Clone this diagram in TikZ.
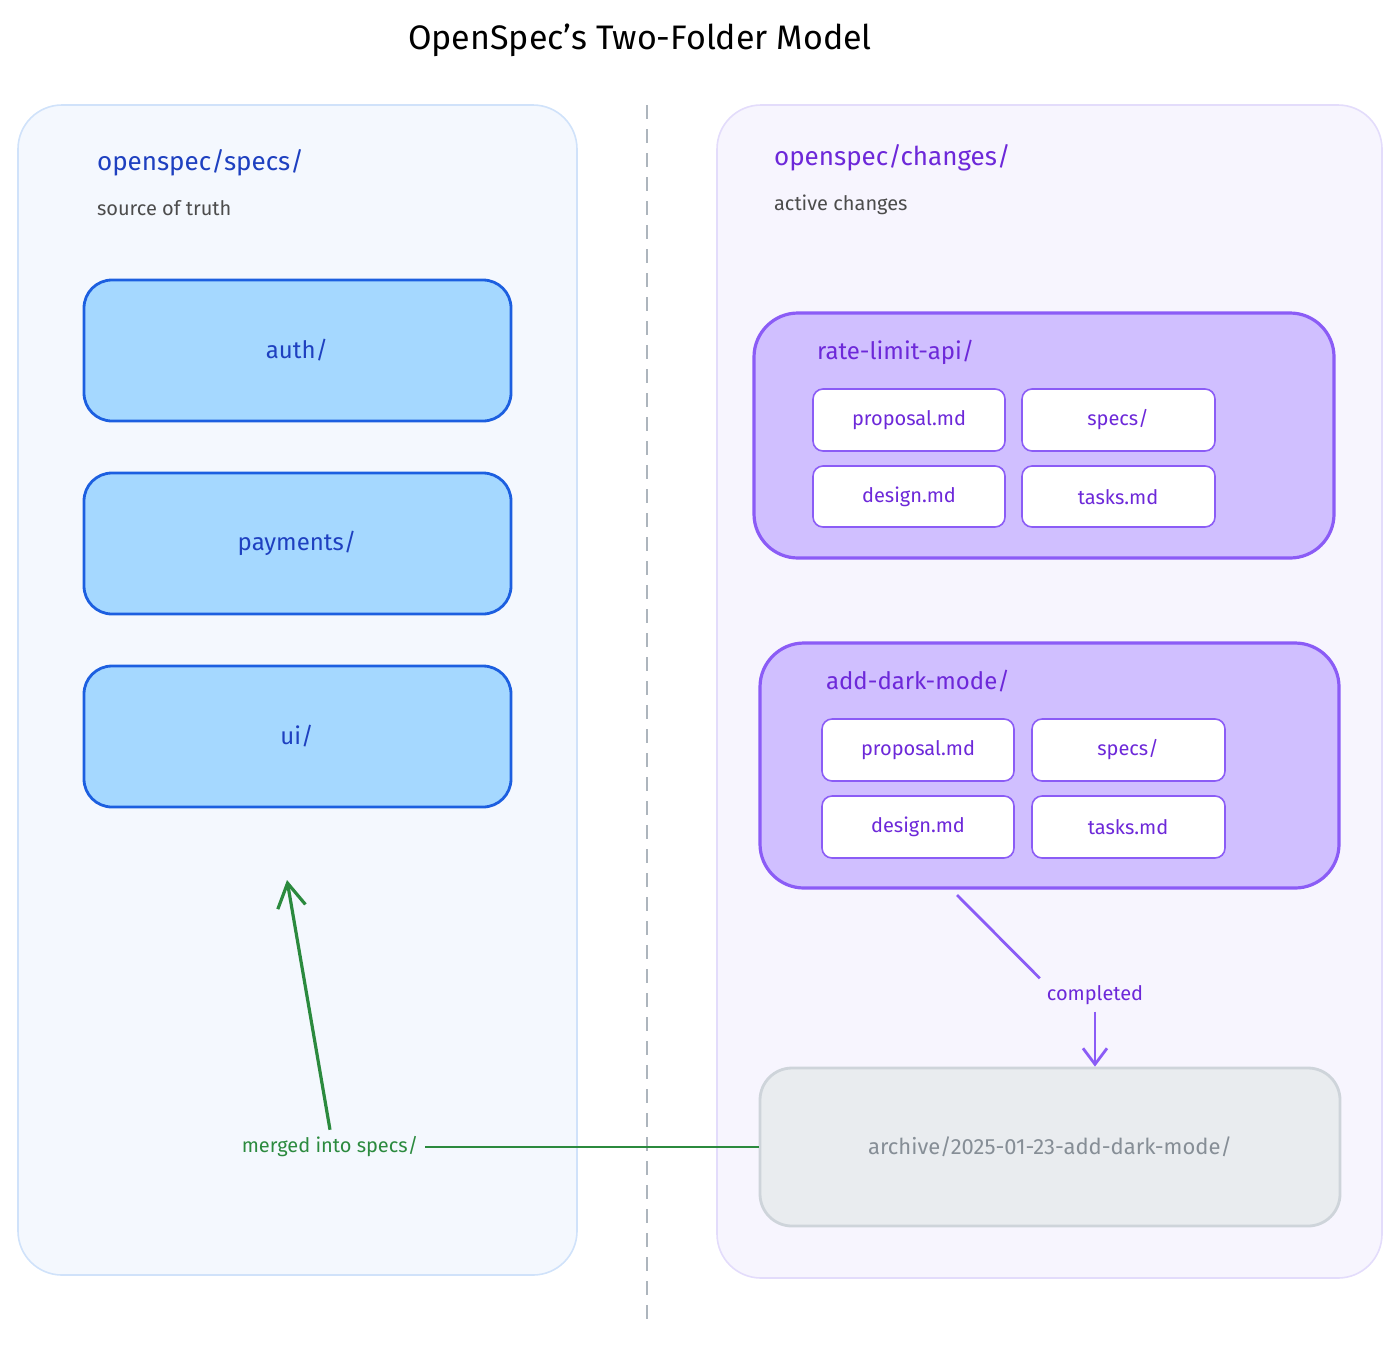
\documentclass[tikz,border=0pt]{standalone}
\usepackage{fontspec}
\setmainfont{Fira Sans}
\usetikzlibrary{arrows.meta}
\definecolor{lbfill}{HTML}{F4F8FE}\definecolor{lbdraw}{HTML}{D0E2FA}
\definecolor{bfill}{HTML}{A5D8FF}\definecolor{bdraw}{HTML}{1C5FE0}\definecolor{btext}{HTML}{1E40C0}
\definecolor{rpfill}{HTML}{F7F5FE}\definecolor{rpdraw}{HTML}{E3DCFB}
\definecolor{pfill}{HTML}{D0BFFF}\definecolor{pdraw}{HTML}{8B5CF6}\definecolor{ptext}{HTML}{6D28D9}
\definecolor{afill}{HTML}{E9ECEF}\definecolor{adraw}{HTML}{CED4DA}\definecolor{atext}{HTML}{868E96}
\definecolor{gr}{HTML}{2B8A3E}\definecolor{divgray}{HTML}{ADB5BD}
\begin{document}
\begin{tikzpicture}[x=0.5pt,y=-0.5pt,
  panel/.style={rounded corners=22pt,line width=0.8pt},
  specbox/.style={draw=bdraw,fill=bfill,rounded corners=14pt,line width=1.4pt},
  grp/.style={draw=pdraw,fill=pfill,rounded corners=22pt,line width=1.6pt},
  file/.style={draw=pdraw,fill=white,rounded corners=5pt,line width=0.8pt},
  ft/.style={text=ptext,font=\fontsize{10}{12}\selectfont},
  bt/.style={text=btext,font=\fontsize{12}{14}\selectfont},
]
\useasboundingbox (0,0) rectangle (1400,1349);
\node (title) at (640,40) {\fontsize{17}{20}\selectfont OpenSpec's Two-Folder Model};
\draw[panel,fill=lbfill,draw=lbdraw] (18,105) rectangle (577,1275);
\draw[panel,fill=rpfill,draw=rpdraw] (717,105) rectangle (1382,1278);
\draw[divgray,line width=1.4pt,dash pattern=on 7pt off 5pt] (647,105) -- (647,1320);
\node[anchor=west,text=btext,font=\fontsize{13}{15}\selectfont] (lt) at (90,163) {openspec/specs/};
\node[anchor=west,text=black!70,font=\fontsize{10}{12}\selectfont] (ls) at (90,208) {source of truth};
\node[anchor=west,text=ptext,font=\fontsize{13}{15}\selectfont] (rt) at (767,158) {openspec/changes/};
\node[anchor=west,text=black!70,font=\fontsize{10}{12}\selectfont] (rs) at (767,205) {active changes};
\draw[specbox] (84,280) rectangle (511,421); \node[bt] (auth) at (297,350) {auth/};
\draw[specbox] (84,473) rectangle (511,614); \node[bt] (pay) at (297,543) {payments/};
\draw[specbox] (84,666) rectangle (511,807); \node[bt] (ui) at (297,736) {ui/};
% group 1
\draw[grp] (754,313) rectangle (1334,558);
\node[anchor=west,ft,font=\fontsize{12}{14}\selectfont] (g1) at (810,352) {rate-limit-api/};
\draw[file] (813,389) rectangle (1005,451); \node[ft] at (909,420) {proposal.md};
\draw[file] (1022,389) rectangle (1215,451); \node[ft] at (1118,420) {specs/};
\draw[file] (813,466) rectangle (1005,527); \node[ft] at (909,497) {design.md};
\draw[file] (1022,466) rectangle (1215,527); \node[ft] at (1118,497) {tasks.md};
% group 2
\draw[grp] (760,643) rectangle (1339,888);
\node[anchor=west,ft,font=\fontsize{12}{14}\selectfont] (g2) at (819,681) {add-dark-mode/};
\draw[file] (822,719) rectangle (1014,781); \node[ft] at (918,750) {proposal.md};
\draw[file] (1032,719) rectangle (1225,781); \node[ft] at (1128,750) {specs/};
\draw[file] (822,796) rectangle (1014,858); \node[ft] at (918,827) {design.md};
\draw[file] (1032,796) rectangle (1225,858); \node[ft] at (1128,827) {tasks.md};
\coordinate (g2b) at (957,895);
% archive
\node[draw=adraw,fill=afill,rounded corners=16pt,line width=1.4pt,minimum width=290pt,minimum height=79pt,text=atext,font=\fontsize{11}{13}\selectfont] (arch) at (1050,1147) {archive/2025-01-23-add-dark-mode/};
\node[ft] (comp) at (1095,995) {completed};
\draw[pdraw,line width=1.4pt] (g2b) -- (comp.north west);
\draw[pdraw,line width=1.4pt,-{Straight Barb[length=8pt,width=12pt]}] (comp.south) -- (arch.north -| comp.south);
% merged
\node[text=gr,font=\fontsize{10}{12}\selectfont] (merged) at (330,1147) {merged into specs/};
\draw[gr,line width=1.4pt] (arch.west) -- (merged.east);
\coordinate (up) at (287,880);
\draw[gr,line width=1.6pt,-{Straight Barb[length=12pt,width=14pt]}] (merged.north) -- (up);
\end{tikzpicture}
\end{document}
